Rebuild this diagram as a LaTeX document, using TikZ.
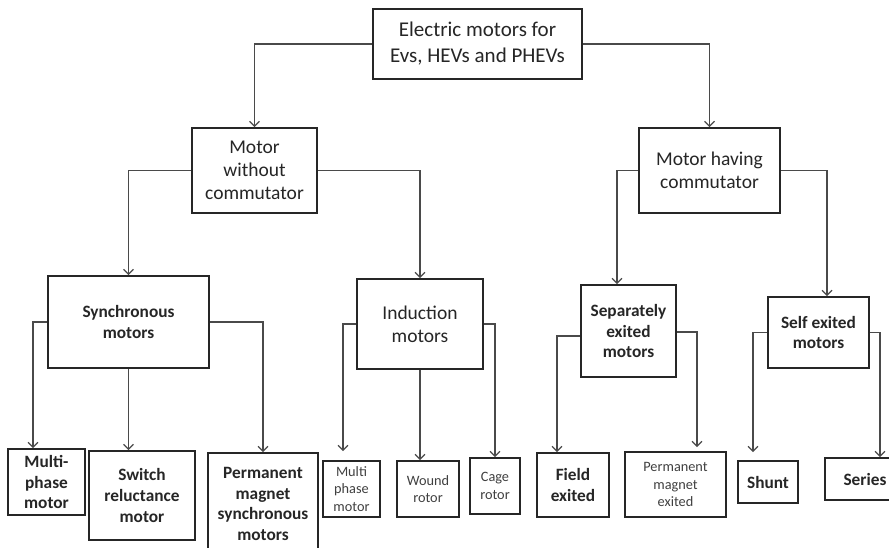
\documentclass[tikz,border=0pt]{standalone}
\usepackage{fontspec}
\setmainfont{Carlito}
\usetikzlibrary{arrows.meta}
\definecolor{linegray}{HTML}{4A4A4A}
\definecolor{boxline}{HTML}{262626}
\definecolor{txt}{HTML}{262626}
\definecolor{lighttxt}{HTML}{404040}
\begin{document}
\begin{tikzpicture}[x=1pt,y=-1pt,
  box/.style={draw=boxline,line width=1.8pt,inner sep=0pt,align=center,text=txt},
  big/.style={box,font=\fontsize{21}{26}\selectfont},
  mid/.style={box,font=\fontsize{19.5}{23}\selectfont},
  bld/.style={box,font=\fontsize{17.3}{20.7}\selectfont\bfseries},
  sml/.style={box,text=lighttxt,font=\fontsize{14.3}{17.5}\selectfont},
  conn/.style={draw=linegray,line width=1.2pt,-{Straight Barb[length=5pt,width=10pt]}}]
\useasboundingbox (0,0) rectangle (889,547);
\clip (0,0) rectangle (889,547);
\fill[white] (0,0) rectangle (889,547);
% level 0
\node[big,minimum width=209pt,minimum height=70pt] (top) at (477.5,44) {Electric motors for\\Evs, HEVs and PHEVs};
% level 1
\node[mid,minimum width=125pt,minimum height=85pt] (mwo) at (254.5,170.5) {Motor\\without\\commutator};
\node[mid,minimum width=141pt,minimum height=85pt] (mhc) at (709.5,170.5) {Motor having\\commutator};
% level 2
\node[bld,minimum width=161pt,minimum height=92pt] (sync) at (128.5,322) {Synchronous\\motors};
\node[mid,minimum width=126pt,minimum height=90pt] (ind) at (420,324) {Induction\\motors};
\node[bld,minimum width=95pt,minimum height=92pt] (sep) at (628.5,331) {Separately\\exited\\motors};
\node[bld,minimum width=101pt,minimum height=71pt] (self) at (818.5,332.5) {Self exited\\motors};
% level 3
\node[bld,minimum width=77pt,minimum height=66pt] (mp) at (46.5,482) {Multi-\\phase\\motor};
\node[bld,minimum width=106pt,minimum height=89pt] (sr) at (142,495.5) {Switch\\reluctance\\motor};
\node[bld,minimum width=110pt,minimum height=102pt] (pm) at (263,504) {Permanent\\magnet\\synchronous\\motors};
\node[sml,minimum width=57pt,minimum height=56pt] (mp2) at (351.5,489) {Multi\\phase\\motor};
\node[sml,minimum width=62pt,minimum height=56pt] (wound) at (428,489) {Wound\\rotor};
\node[sml,minimum width=50pt,minimum height=56pt] (cage) at (495,486) {Cage\\rotor};
\node[bld,minimum width=72pt,minimum height=64pt] (field) at (573,485) {Field\\exited};
\node[sml,minimum width=101pt,minimum height=65pt] (pmx) at (675.5,484.5) {Permanent\\magnet\\exited};
\node[bld,minimum width=60pt,minimum height=42pt] (shunt) at (768,482) {Shunt};
\node[bld,minimum width=80pt,minimum height=42pt] (series) at (865,479) {Series};
% connectors
\draw[conn] (top.west) -| (mwo.north);
\draw[conn] (top.east) -| (mhc.north);
\draw[conn] (mwo.west) -| (sync.north);
\draw[conn] (mwo.east) -| (ind.north);
\draw[conn] (mhc.west) -| ([xshift=-11.5pt]sep.north);
\draw[conn] (mhc.east) -| ([xshift=8.5pt]self.north);
\draw[conn] (sync.west) -| ([xshift=-13.5pt]mp.north);
\draw[conn] (sync.south) -- (sync.south |- sr.north);
\draw[conn] (sync.east) -| (pm.north);
\draw[conn] (ind.west) -| ([xshift=-8.5pt,yshift=9pt]mp2.north);
\draw[conn] (ind.south) -- (ind.south |- wound.north);
\draw[conn] (ind.east) -| (cage.north);
\draw[conn] ([yshift=-5pt]sep.west) -| ([xshift=-16pt]field.north);
\draw[conn] ([yshift=-1pt]sep.east) -| ([xshift=21.5pt,yshift=4pt]pmx.north);
\draw[conn] (self.west) -| ([xshift=-15pt,yshift=8pt]shunt.north);
\draw[conn] (self.east) -| ([xshift=15pt]series.north);
\end{tikzpicture}
\end{document}
